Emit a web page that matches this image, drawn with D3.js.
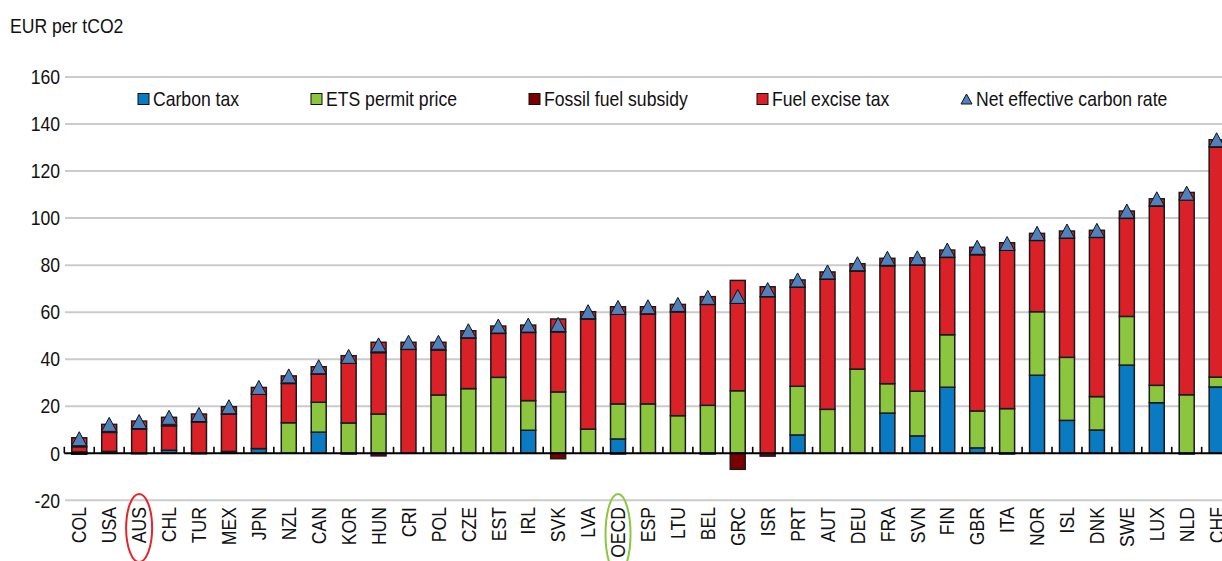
<!DOCTYPE html>
<html>
<head>
<meta charset="utf-8">
<script src="https://cdn.jsdelivr.net/npm/d3@7"></script>
<style>
  html, body { margin: 0; padding: 0; background: #fff; }
  svg { display: block; font-family: "Liberation Sans", Arial, sans-serif; }
</style>
</head>
<body>
<svg id="chart" width="1222" height="561"></svg>
<script>
// ---- Data (EUR per tCO2) ----
const categories = ["COL","USA","AUS","CHL","TUR","MEX","JPN","NZL","CAN","KOR","HUN","CRI","POL","CZE","EST","IRL","SVK","LVA","OECD","ESP","LTU","BEL","GRC","ISR","PRT","AUT","DEU","FRA","SVN","FIN","GBR","ITA","NOR","ISL","DNK","SWE","LUX","NLD","CHF"];
const carbonTax = [0.6,0,0,1.3,0,0.8,2.0,0,9.0,0,0,0,0,0,0,9.8,0,0,6.1,0,0,0,0,0,7.8,0,0,17.1,7.4,28.1,2.3,0,33.2,14.0,9.9,37.5,21.5,0,28.2];
const etsPrice = [0,0.8,0,0,0,0,0,13.0,12.7,12.9,16.7,0,24.8,27.5,32.3,12.6,26.1,10.3,14.9,21.0,16.0,20.4,26.6,0,20.7,18.7,35.8,12.5,19.0,22.3,15.7,19.0,27.0,26.8,14.2,20.7,7.4,24.9,4.2];
const fuelExcise = [2.2,8.1,10.3,10.4,13.3,15.9,23.2,16.7,12.0,25.5,26.1,44.2,19.1,21.5,18.7,29.0,25.5,46.8,38.2,38.2,44.1,42.9,37.2,66.6,42.1,55.3,41.7,50.1,53.6,32.9,66.4,67.4,30.3,50.7,67.7,41.7,76.2,82.9,97.8];
const fuelExciseTop = [3.8,3.4,3.4,3.6,3.4,3.1,2.8,3.2,3.1,3.1,4.4,3.0,3.3,3.1,3.1,3.1,5.5,3.1,3.1,3.1,3.2,3.3,9.7,4.2,3.1,3.1,3.1,3.2,3.1,3.1,3.2,3.1,3.0,3.0,3.0,3.1,3.1,3.1,3.1];
const fossilSubsidy = [-0.4,0,-0.2,0,-0.2,0,0,0,0,-0.3,-1.1,0,0,0,0,0,-2.3,0,-0.3,0,0,-0.3,-6.8,-1.2,0,0,0,0,0,0,0,-0.3,0,0,0,0,0,-0.3,0];
const netRate = [6.2,12.3,13.5,15.3,16.5,19.8,28.0,32.9,36.8,41.2,46.1,47.2,47.2,52.1,54.1,54.5,54.8,60.2,62.0,62.3,63.3,66.3,66.7,69.6,73.7,77.1,80.6,82.9,83.1,86.4,87.6,89.2,93.5,94.5,94.8,103.0,108.2,110.6,133.3];
const yTicks = [-20,0,20,40,60,80,100,120,140,160];
const legendItems = ["Carbon tax","ETS permit price","Fossil fuel subsidy","Fuel excise tax","Net effective carbon rate"];
const highlighted = {"AUS":"#E3262D","OECD":"#8DC63F"};

// ---- Styling ----
const C = { carbon:"#0A7AC2", ets:"#8CC63F", subsidy:"#7A0000", excise:"#DB2128", tri:"#4F81BD", grid:"#CBCBCB", stroke:"#1a1a1a" };
const FS = 20, SX = 0.88;   // narrow-looking font: size + horizontal squeeze

const svg = d3.select("#chart");
const W = 1222, H = 561;

const x = d3.scaleBand().domain(categories).range([64.3, 1231.6]).paddingInner(0.5).paddingOuter(0.25);
const y = d3.scaleLinear().domain([-20,160]).range([500.35, 76.95]);

svg.append("defs").append("clipPath").attr("id","clip").append("rect").attr("x",0).attr("y",0).attr("width",W).attr("height",H);
const g = svg.append("g").attr("clip-path","url(#clip)");

// gridlines
g.append("g").selectAll("line").data(yTicks.filter(d=>d!==0)).join("line")
  .attr("x1",65).attr("x2",W).attr("y1",d=>y(d)).attr("y2",d=>y(d))
  .attr("stroke",C.grid).attr("stroke-width",2);

// y labels
svg.append("g").selectAll("text").data(yTicks).join("text")
  .attr("transform",d=>`translate(60,${y(d)}) scale(${SX},1)`)
  .attr("dy","0.36em").attr("text-anchor","end")
  .attr("font-size",FS).attr("fill","#111").text(d=>d);

// y title
svg.append("text").attr("transform",`translate(10,33) scale(${SX},1)`)
  .attr("font-size",FS).attr("fill","#111").text("EUR per tCO2");

// stacked bars
const rows = categories.map((c,i)=>({c, segs:[
  {v:carbonTax[i], col:C.carbon},
  {v:etsPrice[i], col:C.ets},
  {v:fuelExcise[i], col:C.excise},
  {v:fuelExciseTop[i], col:C.excise}
], neg: fossilSubsidy[i]}));

const barG = g.append("g");
rows.forEach(r=>{
  let acc = 0;
  r.segs.forEach(s=>{
    if (s.v > 0) {
      barG.append("rect")
        .attr("x", x(r.c)).attr("width", x.bandwidth())
        .attr("y", y(acc + s.v)).attr("height", y(acc) - y(acc + s.v))
        .attr("fill", s.col).attr("stroke", C.stroke).attr("stroke-width", 1.5);
      acc += s.v;
    }
  });
  if (r.neg < 0) {
    barG.append("rect")
      .attr("x", x(r.c)).attr("width", x.bandwidth())
      .attr("y", y(0)).attr("height", y(r.neg) - y(0))
      .attr("fill", C.subsidy).attr("stroke", C.stroke).attr("stroke-width", 1.5);
  }
});

// x axis line + ticks
const axG = g.append("g");
axG.append("line").attr("x1",64.3).attr("x2",W).attr("y1",y(0)).attr("y2",y(0)).attr("stroke","#000").attr("stroke-width",2);
const step = x.step();
const boundaries = d3.range(categories.length + 1).map(i => x.range()[0] + i*step);
axG.selectAll("line.tick").data(boundaries).join("line").attr("class","tick")
  .attr("x1",d=>d).attr("x2",d=>d).attr("y1",y(0)).attr("y2",y(0)-6.5)
  .attr("stroke","#000").attr("stroke-width",1.6);

// triangles (net effective carbon rate)
const triPath = (w,h)=>`M0,${-h/2}L${w/2},${h/2}L${-w/2},${h/2}Z`;
g.append("g").selectAll("path").data(categories).join("path")
  .attr("d", triPath(15,14))
  .attr("transform",(c,i)=>`translate(${x(c)+x.bandwidth()/2},${y(netRate[i])})`)
  .attr("fill",C.tri).attr("stroke","#111").attr("stroke-width",1);

// x labels
svg.append("g").selectAll("text").data(categories).join("text")
  .attr("transform",c=>`translate(${x(c)+x.bandwidth()/2},507) rotate(-90) scale(${SX},1)`)
  .attr("text-anchor","end").attr("dy","0.36em").attr("font-size",FS).attr("fill","#111")
  .text(c=>c);

// highlight ellipses
svg.append("g").selectAll("ellipse").data(Object.keys(highlighted)).join("ellipse")
  .attr("cx",c=>x(c)+x.bandwidth()/2)
  .attr("cy",c=>c==="OECD"?534:528)
  .attr("rx",c=>c==="OECD"?12.5:13)
  .attr("ry",c=>c==="OECD"?40:34)
  .attr("fill","none").attr("stroke",c=>highlighted[c]).attr("stroke-width",2);

// legend
const legendX = [138, 311, 529, 757, 961];
const legendCols = [C.carbon, C.ets, C.subsidy, C.excise, C.tri];
const lg = svg.append("g");
legendItems.forEach((t,i)=>{
  if (i < 4) {
    lg.append("rect").attr("x",legendX[i]).attr("y",93.5).attr("width",11).attr("height",11)
      .attr("fill",legendCols[i]).attr("stroke","#111").attr("stroke-width",1);
  } else {
    lg.append("path").attr("d",triPath(11,10)).attr("transform",`translate(${legendX[i]+5.5},99)`)
      .attr("fill",legendCols[i]).attr("stroke","#111").attr("stroke-width",1);
  }
  lg.append("text").attr("transform",`translate(${legendX[i]+15},99) scale(${SX},1)`).attr("dy","0.36em")
    .attr("font-size",FS).attr("fill","#111").text(t);
});
</script>
</body>
</html>
